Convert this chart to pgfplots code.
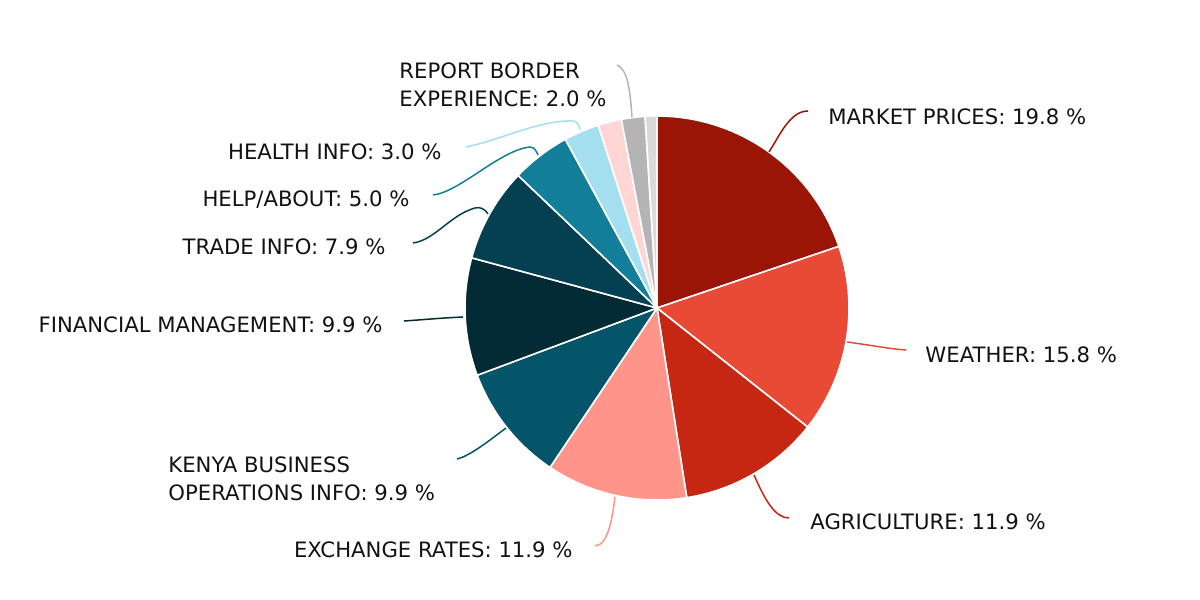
\documentclass[border=0pt]{standalone}
\usepackage{fontspec}
\setmainfont{DejaVu Sans}
\usepackage{pgfplots}
\pgfplotsset{compat=1.18}
\definecolor{cMarket}{HTML}{9A1505}
\definecolor{cWeather}{HTML}{E84A35}
\definecolor{cAgri}{HTML}{C52713}
\definecolor{cExch}{HTML}{FF948A}
\definecolor{cKenya}{HTML}{045569}
\definecolor{cFin}{HTML}{022B36}
\definecolor{cTrade}{HTML}{044052}
\definecolor{cHelp}{HTML}{137E9A}
\definecolor{cHealth}{HTML}{A3DFEE}
\definecolor{cPink}{HTML}{FFD6D4}
\definecolor{cGray}{HTML}{B4B4B4}
\definecolor{cLGray}{HTML}{DADADA}
% counts (total 101): market 20, weather 16, agriculture 12, exchange 12,
% kenya 10, financial 10, trade 8, help 5, health 3, other 2, report border 2, other 1
\newcommand\slice[3]{%
  \fill[#3, draw=white, line width=0.8pt, line join=round]
    (axis cs:657,-308) -- ++({90-(#1/101)*360}:96pt)
    arc[start angle={90-(#1/101)*360}, end angle={90-(#2/101)*360}, radius=96pt] -- cycle;}
\begin{document}
\begin{tikzpicture}[font=\fontsize{10.6}{14}\selectfont]
\begin{axis}[x=0.5pt, y=0.5pt, xmin=0, xmax=1200, ymin=-600, ymax=0,
  hide axis, clip=false, scale only axis]
\path (axis cs:0,0) rectangle (axis cs:1200,-600);
\slice{0}{20}{cMarket}
\slice{20}{36}{cWeather}
\slice{36}{48}{cAgri}
\slice{48}{60}{cExch}
\slice{60}{70}{cKenya}
\slice{70}{80}{cFin}
\slice{80}{88}{cTrade}
\slice{88}{93}{cHelp}
\slice{93}{96}{cHealth}
\slice{96}{98}{cPink}
\slice{98}{100}{cGray}
\slice{100}{101}{cLGray}
% leader lines
\begin{scope}[line width=0.75pt]
\draw[cMarket] (axis cs:769,-152) .. controls (axis cs:780,-135) and (axis cs:790,-111) .. (axis cs:808,-111);
\draw[cWeather] (axis cs:847,-342) .. controls (axis cs:870,-345) and (axis cs:890,-349) .. (axis cs:906,-350);
\draw[cAgri] (axis cs:754,-475) .. controls (axis cs:765,-500) and (axis cs:775,-518) .. (axis cs:789,-518);
\draw[cExch] (axis cs:615,-497) .. controls (axis cs:612,-520) and (axis cs:608,-545) .. (axis cs:595,-546);
\draw[cKenya] (axis cs:506,-428) .. controls (axis cs:490,-440) and (axis cs:470,-456) .. (axis cs:457,-459);
\draw[cFin] (axis cs:463,-317) .. controls (axis cs:440,-318) and (axis cs:420,-320) .. (axis cs:404,-321);
\draw[cTrade] (axis cs:488,-214) .. controls (axis cs:484,-208) and (axis cs:480,-207) .. (axis cs:475,-208)
   .. controls (axis cs:450,-215) and (axis cs:435,-240) .. (axis cs:413,-243);
\draw[cHelp] (axis cs:538,-155) .. controls (axis cs:535,-148) and (axis cs:533,-147) .. (axis cs:530,-147)
   .. controls (axis cs:500,-150) and (axis cs:460,-192) .. (axis cs:433,-195);
\draw[cHealth] (axis cs:580,-130) .. controls (axis cs:578,-122) and (axis cs:576,-121) .. (axis cs:572,-121)
   .. controls (axis cs:540,-120) and (axis cs:500,-140) .. (axis cs:466,-147);
\draw[cGray] (axis cs:632,-117) .. controls (axis cs:630,-90) and (axis cs:628,-70) .. (axis cs:617,-65);
\end{scope}
% labels
\begin{scope}[every node/.style={inner sep=0pt, text=black!93}]
\node[anchor=west] at (axis cs:828,-117) {MARKET PRICES: 19.8 \%};
\node[anchor=west] at (axis cs:925,-355) {WEATHER: 15.8 \%};
\node[anchor=west] at (axis cs:810,-522) {AGRICULTURE: 11.9 \%};
\node[anchor=east] at (axis cs:573,-550) {EXCHANGE RATES: 11.9 \%};
\node[anchor=west, align=left] at (axis cs:168,-479) {KENYA BUSINESS\\OPERATIONS INFO: 9.9 \%};
\node[anchor=east] at (axis cs:383,-325) {FINANCIAL MANAGEMENT: 9.9 \%};
\node[anchor=east] at (axis cs:386,-247) {TRADE INFO: 7.9 \%};
\node[anchor=east] at (axis cs:410,-200) {HELP/ABOUT: 5.0 \%};
\node[anchor=east] at (axis cs:442,-152) {HEALTH INFO: 3.0 \%};
\node[anchor=west, align=left] at (axis cs:399,-85) {REPORT BORDER\\EXPERIENCE: 2.0 \%};
\end{scope}
\end{axis}
\end{tikzpicture}
\end{document}
